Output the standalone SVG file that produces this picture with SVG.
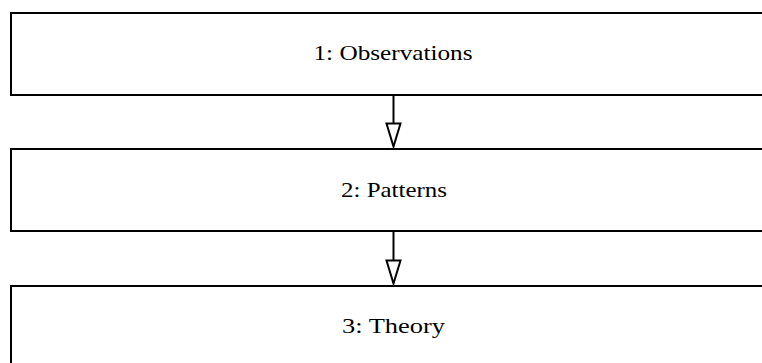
<svg xmlns="http://www.w3.org/2000/svg" width="762" height="363" viewBox="0 0 762 363">
<style>
.box{fill:#fff;stroke:#000;stroke-width:2}
.lbl{font-family:"Liberation Serif",serif;font-size:21px;fill:#000;text-anchor:middle}
.conn{stroke:#000;stroke-width:2;fill:none}
.head{fill:#fff;stroke:#000;stroke-width:2;stroke-linejoin:miter}
</style>
<rect width="762" height="363" fill="#fff"/>
<g id="node1"><rect class="box" x="11" y="13" width="770" height="82"/><text class="lbl" x="393" y="60" textLength="159" lengthAdjust="spacingAndGlyphs">1: Observations</text></g>
<g id="node2"><rect class="box" x="11" y="149" width="770" height="82"/><text class="lbl" x="394" y="196.5" textLength="106" lengthAdjust="spacingAndGlyphs">2: Patterns</text></g>
<g id="node3"><rect class="box" x="11" y="286" width="770" height="83"/><text class="lbl" x="393.5" y="333" textLength="103" lengthAdjust="spacingAndGlyphs">3: Theory</text></g>
<g id="connectors">
<line class="conn" x1="393.5" y1="95" x2="393.5" y2="123.5"/>
<polygon class="head" points="386.5,123.5 400.5,123.5 393.5,146.5"/>
<line class="conn" x1="393.5" y1="231" x2="393.5" y2="260.5"/>
<polygon class="head" points="386.5,260.5 400.5,260.5 393.5,283.5"/>
</g>
</svg>
